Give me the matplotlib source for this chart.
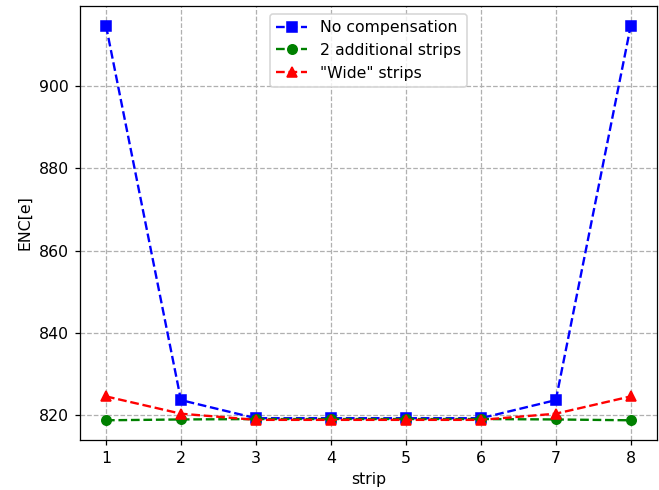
import matplotlib.pyplot as plt

strips = [1, 2, 3, 4, 5, 6, 7, 8]
no_comp = [914.6, 823.7, 819.3, 819.3, 819.3, 819.3, 823.7, 914.6]
additional = [818.8, 819.0, 819.1, 819.1, 819.1, 819.1, 819.0, 818.8]
wide = [824.6, 820.4, 818.9, 818.9, 818.9, 818.9, 820.4, 824.6]

# the reference looks like a default-size figure scaled up ~1.13x
dpi = 113
fig, ax = plt.subplots(figsize=(659 / dpi, 490 / dpi), dpi=dpi)
ax.plot(strips, no_comp, "b--s", label="No compensation")
ax.plot(strips, additional, "g--o", label="2 additional strips")
ax.plot(strips, wide, "r--^", label='"Wide" strips')
ax.set_xlabel("strip")
ax.set_ylabel("ENC[e]")
ax.grid(True, linestyle="--")
ax.legend(loc="upper center")
fig.subplots_adjust(left=0.121, right=0.997, top=0.988, bottom=0.102)
fig.savefig("out.png", dpi=dpi)
